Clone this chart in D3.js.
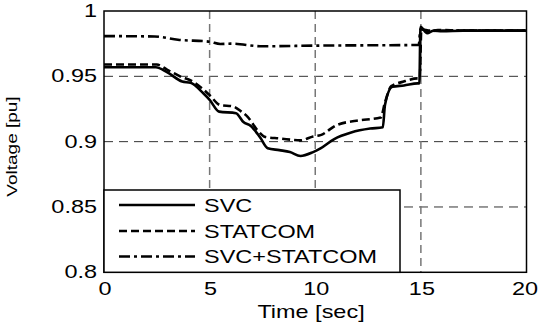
<!DOCTYPE html>
<html><head><meta charset="utf-8">
<script src="https://cdn.jsdelivr.net/npm/d3@7"></script>
<style>body{margin:0;background:#fff}svg{display:block}text{font-family:"Liberation Sans",Arial,sans-serif;fill:#000}</style>
</head><body>
<svg id="c" width="539" height="326"></svg>
<script>
const svcT = [0,2.45,3.0,3.7,4.1,4.7,5.0,5.45,6.25,6.6,6.95,7.4,7.75,8.3,8.8,9.3,9.9,10.25,10.9,11.7,12.6,13.2,13.3,13.65,14.2,14.85,14.93,14.98,15.3,15.6,16.0,17,20];
const svcV = [0.957,0.957,0.953,0.946,0.945,0.937,0.932,0.923,0.9218,0.915,0.912,0.903,0.895,0.8935,0.892,0.889,0.892,0.8948,0.902,0.907,0.910,0.911,0.928,0.942,0.943,0.9446,0.9446,0.988,0.983,0.985,0.9845,0.985,0.985];
const statT = [0,2.5,3.0,3.6,4.2,4.7,5.0,5.5,6.1,6.5,6.8,7.25,7.65,8.3,9.3,9.9,10.25,11.0,11.95,13.1,13.3,13.6,14.15,14.85,14.95,15.02,15.4,15.8,17,20];
const statV = [0.959,0.959,0.955,0.950,0.946,0.940,0.9356,0.928,0.927,0.923,0.919,0.909,0.9035,0.9025,0.901,0.904,0.905,0.9126,0.916,0.9185,0.93,0.9425,0.9458,0.9484,0.9484,0.986,0.984,0.9855,0.985,0.985];
const bothT = [0,2.4,3.5,5.0,5.5,6.0,7.5,10,14.9,14.98,15.5,20];
const bothV = [0.9808,0.9805,0.978,0.9765,0.9747,0.975,0.973,0.9735,0.974,0.986,0.985,0.985];
const seriesNames = ["SVC","STATCOM","SVC+STATCOM"];
const xTicks = [0,5,10,15,20];
const yTicks = [0.8,0.85,0.9,0.95,1];
const yTickLabels = ["0.8","0.85","0.9","0.95","1"];

const svg = d3.select("#c");
const W=539,L=104,R=526.5,T=11,B=272.3;
const x = d3.scaleLinear().domain([0,20]).range([L,R]);
const y = d3.scaleLinear().domain([0.8,1]).range([B,T]);
const SX = 1.34;

function stext(g, px, py, str, size, anchor){
  return g.append("text").attr("transform",`translate(${px},${py}) scale(${SX},1)`)
    .attr("text-anchor",anchor).style("font-size",size+"px").text(str);
}

const grid = svg.append("g");
grid.selectAll("line.h").data([0.85,0.9,0.95]).enter().append("line")
  .attr("x1",L).attr("x2",R).attr("y1",d=>y(d)).attr("y2",d=>y(d))
  .attr("stroke","#333").attr("stroke-width",1).attr("stroke-dasharray","9,6");
grid.selectAll("line.v").data([5,10,15]).enter().append("line")
  .attr("y1",T).attr("y2",B).attr("x1",d=>x(d)).attr("x2",d=>x(d))
  .attr("stroke","#777").attr("stroke-width",1.5).attr("stroke-dasharray","8,5");

const line = d3.line().x(d=>x(d[0])).y(d=>y(d[1])).curve(d3.curveMonotoneX);
const styles = [null,"8,4","11,4,3,4"];
const data = [d3.zip(svcT,svcV), d3.zip(statT,statV), d3.zip(bothT,bothV)];
svg.append("clipPath").attr("id","cl").append("rect").attr("x",L).attr("y",T-3).attr("width",R-L).attr("height",B-T+3);
data.forEach((d,i)=>{
  svg.append("path").attr("d",line(d)).attr("fill","none").attr("stroke","#000")
    .attr("stroke-width",2.6).attr("stroke-dasharray",styles[i]).attr("clip-path","url(#cl)");
});

svg.append("rect").attr("x",L).attr("y",T).attr("width",R-L).attr("height",B-T)
  .attr("fill","none").attr("stroke","#000").attr("stroke-width",1.5);

yTicks.forEach((v,i)=>{ stext(svg, 97, y(v)+6, yTickLabels[i], 17.5, "end"); });
xTicks.forEach((v,i)=>{
  if (i === xTicks.length-1) stext(svg, W-1, 295, String(v), 17.5, "end");
  else stext(svg, x(v)+1, 295, String(v), 17.5, "middle");
});

stext(svg, 311, 318, "Time [sec]", 17.5, "middle");
svg.append("text").attr("transform","translate(17,146.5) rotate(-90) scale(1,0.75)")
  .attr("text-anchor","middle").style("font-size","19px").text("Voltage [pu]");

const lg = svg.append("g");
lg.append("rect").attr("x",L).attr("y",190).attr("width",400-L).attr("height",B-190)
  .attr("fill","#fff").attr("stroke","#000").attr("stroke-width",1.5);
const ly = [205,231,256.5];
seriesNames.forEach((n,i)=>{
  lg.append("line").attr("x1",119).attr("x2",195).attr("y1",ly[i]).attr("y2",ly[i])
    .attr("stroke","#000").attr("stroke-width",2.6).attr("stroke-dasharray",styles[i]);
  stext(lg, 204, ly[i]+6.5, n, 17.5, "start");
});
</script>
</body></html>
